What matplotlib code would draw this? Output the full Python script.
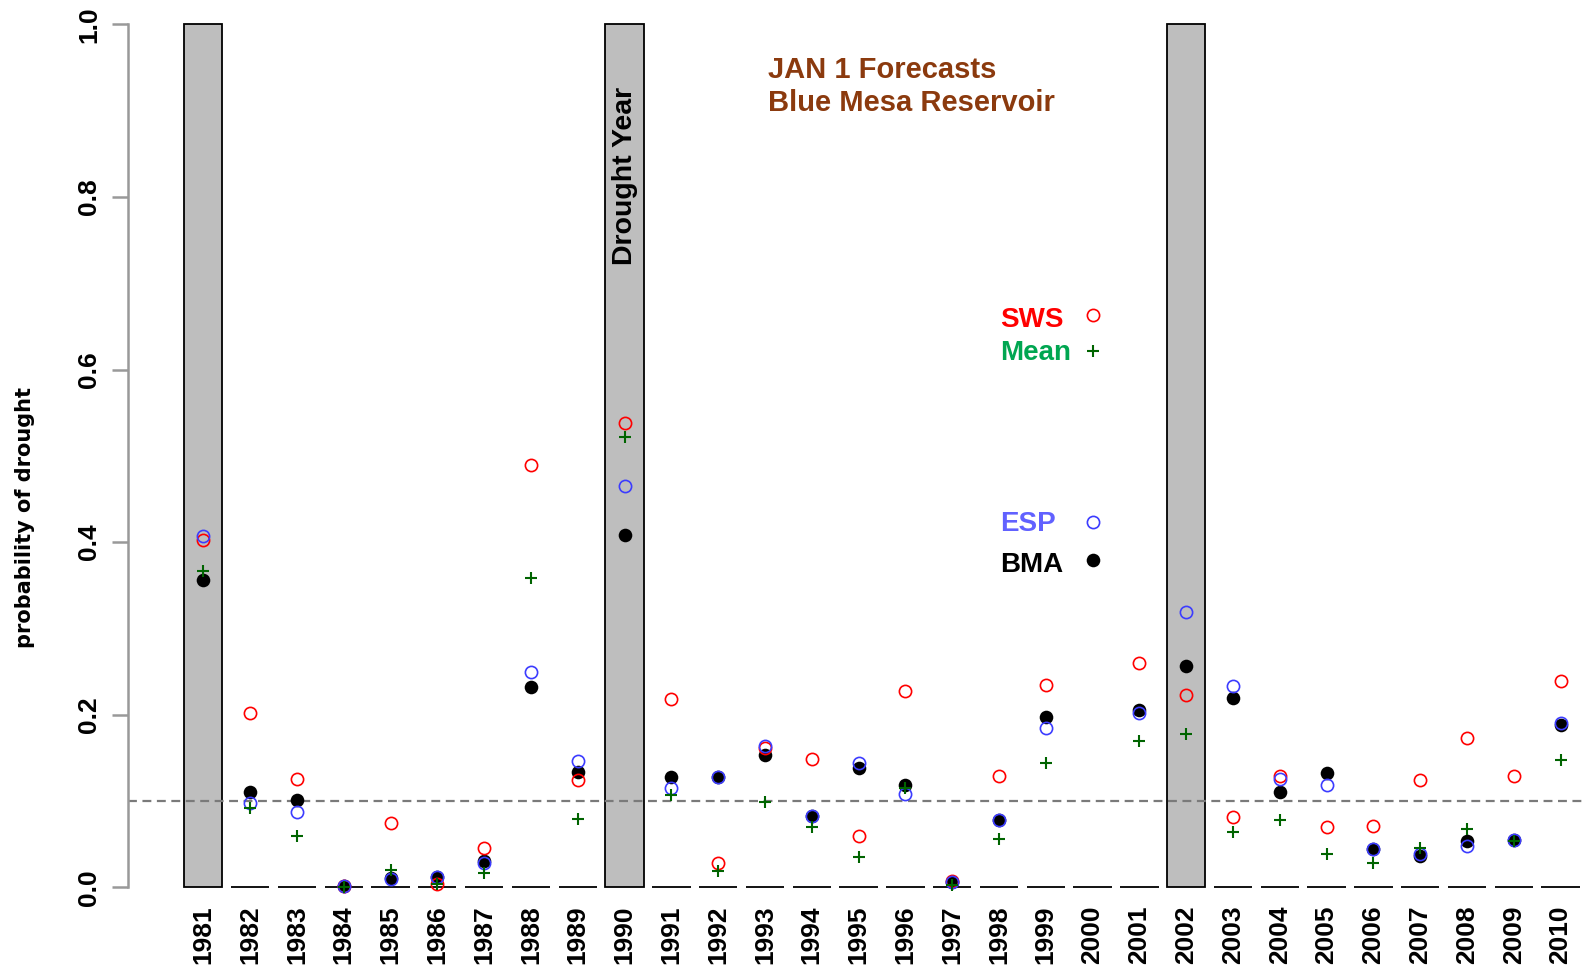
import matplotlib
matplotlib.use("Agg")
import matplotlib.pyplot as plt

plt.rcParams["font.family"] = ["Liberation Sans", "DejaVu Sans"]

years = list(range(1981, 2011))
drought_years = [1981, 1990, 2002]
drought = [1 if y in drought_years else 0 for y in years]

sws = [0.402, 0.202, 0.126, 0.001, 0.074, 0.004, 0.046, 0.489, 0.124, 0.538,
       0.218, 0.028, 0.161, 0.149, 0.059, 0.228, 0.007, 0.129, 0.234, 0.663,
       0.260, 0.223, 0.082, 0.129, 0.070, 0.071, 0.124, 0.173, 0.129, 0.239]
esp = [0.407, 0.098, 0.087, 0.001, 0.010, 0.012, 0.028, 0.249, 0.146, 0.465,
       0.115, 0.128, 0.164, 0.083, 0.144, 0.108, 0.006, 0.078, 0.185, 0.423,
       0.202, 0.319, 0.233, 0.126, 0.118, 0.044, 0.039, 0.048, 0.055, 0.190]
bma = [0.356, 0.111, 0.101, 0.001, 0.011, 0.012, 0.030, 0.232, 0.134, 0.408,
       0.128, 0.128, 0.153, 0.083, 0.138, 0.118, 0.006, 0.078, 0.197, 0.379,
       0.206, 0.256, 0.219, 0.110, 0.133, 0.044, 0.036, 0.054, 0.055, 0.188]
mean = [0.366, 0.092, 0.059, 0.000, 0.020, 0.004, 0.016, 0.358, 0.079, 0.522,
        0.107, 0.019, 0.099, 0.070, 0.035, 0.115, 0.003, 0.056, 0.144, 0.621,
        0.169, 0.178, 0.064, 0.078, 0.039, 0.028, 0.045, 0.068, 0.054, 0.148]

threshold = 0.1
yticks = [0.0, 0.2, 0.4, 0.6, 0.8, 1.0]

W, H = 1583, 969
fig = plt.figure(figsize=(W / 100, H / 100), dpi=100)
ax = fig.add_axes([128 / W, (H - 887.3) / H, (W - 128) / W, 863 / H])
ax.set_xlim(1979.391, 2010.48)
ax.set_ylim(0, 1)

ax.bar(years, drought, width=0.82, color="#bebebe", edgecolor="black",
       linewidth=1.3, clip_on=False, zorder=1)
ax.axhline(threshold, color="#7a7a7a", linestyle=(0, (4, 2.5)), linewidth=1.6, zorder=2)

ms = 8.8
ax.plot(years, bma, "o", color="black", ms=ms + 1.0, mew=0, clip_on=False, zorder=3)
ax.plot(years, sws, "o", mfc="none", mec="red", ms=ms, mew=1.2, clip_on=False, zorder=4)
ax.plot(years, esp, "o", mfc="none", mec="#3c3cff", ms=ms, mew=1.2, clip_on=False, zorder=5)
ax.plot(years, mean, "+", color="#006400", ms=ms + 0.4, mew=1.5, clip_on=False, zorder=6)

for sp in ["top", "right", "bottom"]:
    ax.spines[sp].set_visible(False)
ax.spines["left"].set_bounds(0, 1)
ax.spines["left"].set_color("#999999")
ax.spines["left"].set_linewidth(1.8)

ax.set_yticks(yticks)
ax.set_yticklabels([f"{v:.1f}" for v in yticks], fontsize=19, fontweight="bold",
                   rotation=90, va="center")
ax.tick_params(axis="y", length=11.5, width=1.8, color="#999999", pad=8)
ax.set_xticks(years)
ax.set_xticklabels([str(y) for y in years], fontsize=19, fontweight="bold", rotation=90)
ax.tick_params(axis="x", length=0, pad=13)

fig.text(25 / W, 1 - 518 / H, "probability of drought", rotation=90, ha="center",
         va="center", fontsize=15, fontweight="bold", family=["DejaVu Sans"])

ax.text(1990, 0.824, "Drought Year", rotation=90, ha="center", va="center",
        fontsize=20.5, fontweight="bold")

brown = "#8b3a0e"
ax.text(1993.07, 0.938, "JAN 1 Forecasts", color=brown, fontsize=21,
        fontweight="bold", va="baseline")
ax.text(1993.07, 0.8995, "Blue Mesa Reservoir", color=brown, fontsize=21,
        fontweight="bold", va="baseline")

labels = [("SWS", "#ff0000", 0.649), ("Mean", "#00a651", 0.611),
          ("ESP", "#6161ff", 0.413), ("BMA", "black", 0.365)]
for txt, col, yb in labels:
    ax.text(1998.02, yb, txt, color=col, fontsize=20, fontweight="bold", va="baseline")

fig.savefig("out.png", dpi=100)
